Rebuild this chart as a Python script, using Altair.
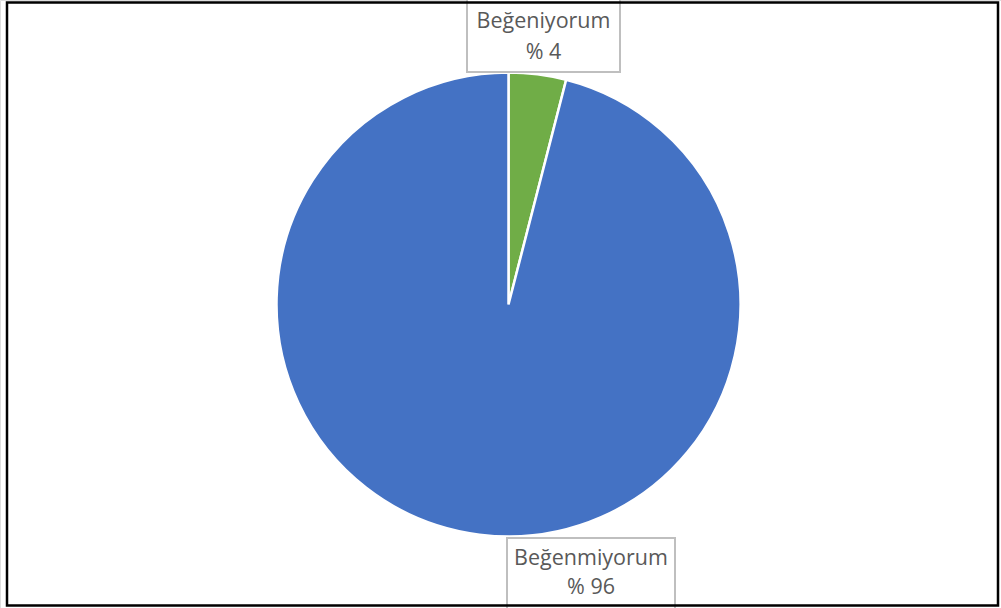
import altair as alt
import pandas as pd

categories = ["Beğeniyorum", "Beğenmiyorum"]
values = [4, 96]
label_pct = ["% 4", "% 96"]
colors = ["#70AD47", "#4472C4"]

df = pd.DataFrame({"cat": categories, "val": values, "order": [0, 1]})

W, H = 1001, 608
CX, CY, R = 508.5, 304.5, 232

pie = alt.Chart(df).mark_arc(radius=R, stroke="white", strokeWidth=2.5).encode(
    theta=alt.Theta("val:Q", stack=True),
    order=alt.Order("order:Q"),
    color=alt.Color("cat:N", scale=alt.Scale(domain=categories, range=colors), legend=None),
    x=alt.value(CX),
    y=alt.value(CY),
)

border = alt.Chart(pd.DataFrame({"a": [0]})).mark_rect(
    fill=None, stroke="black", strokeWidth=2.5
).encode(x=alt.value(7), x2=alt.value(998), y=alt.value(2.5), y2=alt.value(605.5))

def label_layers(idx, x0, x1, y0, y1, cx, ty1, ty2):
    d = pd.DataFrame({"cat": [categories[idx]], "pct": [label_pct[idx]]})
    box = alt.Chart(d).mark_rect(fill="white", stroke="#BFBFBF", strokeWidth=2).encode(
        x=alt.value(x0), x2=alt.value(x1), y=alt.value(y0), y2=alt.value(y1)
    )
    t1 = alt.Chart(d).mark_text(font="Open Sans", fontSize=21.5, color="#595959",
                                align="center", baseline="middle").encode(
        text="cat:N", x=alt.value(cx), y=alt.value(ty1))
    t2 = alt.Chart(d).mark_text(font="Open Sans", fontSize=21.5, color="#595959",
                                align="center", baseline="middle").encode(
        text="pct:N", x=alt.value(cx), y=alt.value(ty2))
    return [box, t1, t2]

top = label_layers(0, 467, 620, -3, 72, 543.5, 22, 53)
bot = label_layers(1, 507, 675, 538, 612, 591, 559, 588)

chart = alt.layer(pie, *top, *bot, border).properties(
    width=W, height=H, padding=0, autosize=alt.AutoSizeParams(type="none")
).configure_view(stroke=None).configure(background="white")

chart.save("out.html", embed_options={"renderer": "svg", "actions": False})
